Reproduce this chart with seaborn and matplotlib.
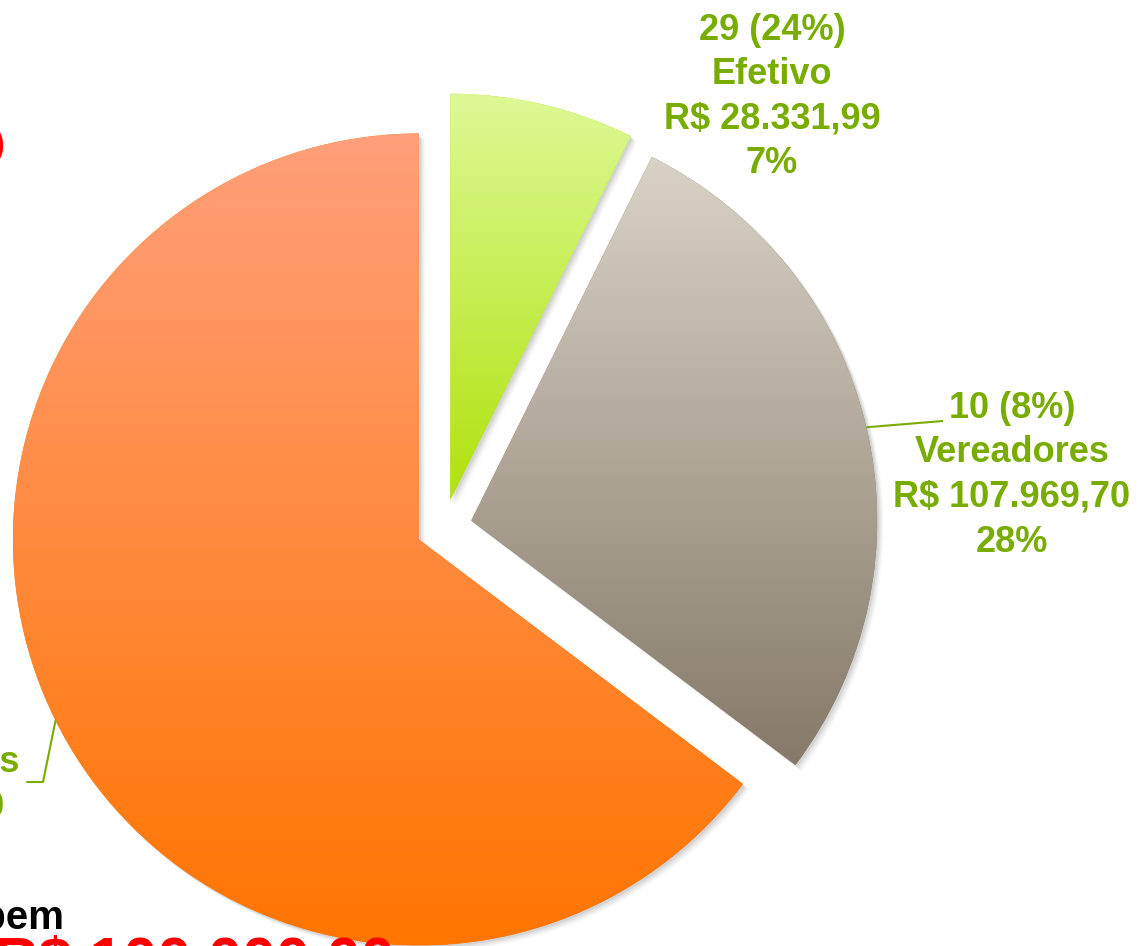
import numpy as np
import matplotlib
matplotlib.use("Agg")
import matplotlib.pyplot as plt
import seaborn as sns
from matplotlib.patches import Shadow
from matplotlib.colors import to_rgb

# ---- data ----
categories = ["Efetivo", "Vereadores", "Comissionados"]
amounts = [28331.99, 107969.70, 250000.00]
counts = [29, 10, 82]
count_pct = [24, 8, 68]
top_colors = ["#ddf996", "#d9d2c7", "#ff9f7b"]
bottom_colors = ["#b0e20c", "#857a69", "#ff7500"]

W, H = 1138, 946
sns.set_theme(style="white")
plt.rcParams['font.family'] = ['Liberation Sans', 'DejaVu Sans']

fig = plt.figure(figsize=(W / 100, H / 100), dpi=100)
ax = fig.add_axes([0, 0, 1, 1])
ax.set_facecolor('white')

R = 406
cx, cy = 444, H - 527
wedges, _ = ax.pie(amounts, explode=[28] * 3, startangle=90, counterclock=False,
                   radius=R, center=(cx, cy), colors=bottom_colors,
                   wedgeprops=dict(linewidth=0, zorder=2))

# soft drop shadows
for w in wedges:
    for k, a in zip([1.5, 2.5, 3.5, 4.5], [0.10, 0.08, 0.06, 0.04]):
        s = Shadow(w, k, -k, facecolor='0.35', edgecolor='none', alpha=a)
        s.set_zorder(1)
        ax.add_patch(s)

# vertical gradients clipped to each wedge
for w, tc, bc in zip(wedges, top_colors, bottom_colors):
    bb = w.get_path().get_extents()
    n = 256
    t = np.linspace(0, 1, n)[:, None, None]
    img = (1 - t) * np.array(to_rgb(bc))[None, None, :] + t * np.array(to_rgb(tc))[None, None, :]
    img = np.repeat(img, 2, axis=1)
    im = ax.imshow(img, extent=[bb.x0, bb.x1, bb.y0, bb.y1], origin='lower',
                   aspect='auto', interpolation='bilinear', zorder=3)
    im.set_clip_path(w)

ax.set_xlim(0, W)
ax.set_ylim(0, H)
ax.set_aspect('auto')
ax.axis('off')

# ---- labels ----
green = "#78ad00"
fs = 26


def brl(v):
    s = f"{v:,.2f}"
    return "R$ " + s.replace(",", "X").replace(".", ",").replace("X", ".")


total = sum(amounts)
label_anchor = [(772, 40), (1012, 418), (-114, 727.5)]  # image px: center x, first baseline
pitch = 44.5
for (x, y0), n, p, c, v in zip(label_anchor, counts, count_pct, categories, amounts):
    lines = [f"{n} ({p}%)", c, brl(v), f"{round(100 * v / total)}%"]
    for i, line in enumerate(lines):
        ax.text(x, H - (y0 + i * pitch), line, ha='center', va='baseline',
                fontsize=fs, fontweight='bold', color=green, zorder=5)


def arc_mid(w):
    m = np.deg2rad((w.theta1 + w.theta2) / 2)
    return w.center[0] + w.r * np.cos(m), w.center[1] + w.r * np.sin(m)


# leader lines
sx, sy = arc_mid(wedges[1])
ax.plot([sx, 943], [sy, H - 421], color=green, lw=1.5, zorder=4, solid_capstyle='butt')
sx, sy = arc_mid(wedges[2])
ax.plot([sx, 43, 27], [sy, H - 782, H - 782], color=green, lw=1.5, zorder=4)

# partially visible side annotations
ax.text(4.5, H - 155, "Total (100%)", ha='right', va='baseline', fontsize=25,
        fontweight='bold', color='red', zorder=5)
ax.text(64, H - 929, "Recebem", ha='right', va='baseline', fontsize=29,
        fontweight='bold', color='black', zorder=5)
ax.text(-6, H - 979, "R$ 100.000,00", ha='left', va='baseline', fontsize=44,
        fontweight='bold', color='red', zorder=5)

fig.savefig("out.png", dpi=100)
